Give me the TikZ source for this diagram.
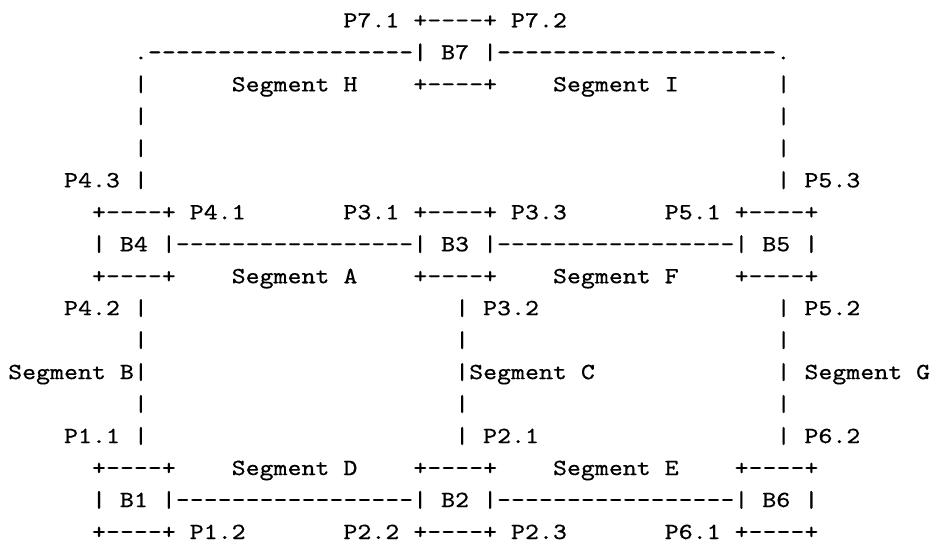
\documentclass[tikz,border=0pt]{standalone}
\usepackage{fontspec}
\setmonofont{Latin Modern Mono}[FakeBold=0.15]
\usepackage{graphicx}
\frenchspacing
\tikzset{
  asciitext/.style={font=\fontsize{8.72}{10}\selectfont\ttfamily\frenchspacing,
    anchor=base west, inner sep=0pt, outer sep=0pt, text=black}
}
% #1 name, #2 row, #3 column, #4 text
\newcommand\asciiat[4]{\node[asciitext] (#1) at ({8.2+13.97*#3},{-(27.5+31.97*#2)}) {\scalebox{1.144}[1]{#4}};}
\begin{document}
\begin{tikzpicture}[x=0.375pt,y=0.375pt]
\useasboundingbox (0,0) rectangle (930,-542);
% row 0
\asciiat{r0a}{0}{24}{P7.1 +----+ P7.2}
% row 1
\asciiat{r1a}{1}{9}{.-------------------| B7 |--------------------.}
% row 2
\asciiat{r2a}{2}{9}{|}
\asciiat{r2b}{2}{16}{Segment H}
\asciiat{r2c}{2}{29}{+----+}
\asciiat{r2d}{2}{39}{Segment I}
\asciiat{r2e}{2}{55}{|}
% rows 3-4
\asciiat{r3a}{3}{9}{|}
\asciiat{r3b}{3}{55}{|}
\asciiat{r4a}{4}{9}{|}
\asciiat{r4b}{4}{55}{|}
% row 5
\asciiat{r5a}{5}{4}{P4.3 |}
\asciiat{r5b}{5}{55}{| P5.3}
% row 6
\asciiat{r6a}{6}{6}{+----+ P4.1}
\asciiat{r6b}{6}{24}{P3.1 +----+ P3.3}
\asciiat{r6c}{6}{47}{P5.1 +----+}
% row 7
\asciiat{r7a}{7}{6}{| B4 |-----------------| B3 |-----------------| B5 |}
% row 8
\asciiat{r8a}{8}{6}{+----+}
\asciiat{r8b}{8}{16}{Segment A}
\asciiat{r8c}{8}{29}{+----+}
\asciiat{r8d}{8}{39}{Segment F}
\asciiat{r8e}{8}{52}{+----+}
% row 9
\asciiat{r9a}{9}{4}{P4.2 |}
\asciiat{r9b}{9}{32}{| P3.2}
\asciiat{r9c}{9}{55}{| P5.2}
% row 10
\asciiat{r10a}{10}{9}{|}
\asciiat{r10b}{10}{32}{|}
\asciiat{r10c}{10}{55}{|}
% row 11
\asciiat{r11a}{11}{0}{Segment B|}
\asciiat{r11b}{11}{32}{|Segment C}
\asciiat{r11c}{11}{55}{| Segment G}
% row 12
\asciiat{r12a}{12}{9}{|}
\asciiat{r12b}{12}{32}{|}
\asciiat{r12c}{12}{55}{|}
% row 13
\asciiat{r13a}{13}{4}{P1.1 |}
\asciiat{r13b}{13}{32}{| P2.1}
\asciiat{r13c}{13}{55}{| P6.2}
% row 14
\asciiat{r14a}{14}{6}{+----+}
\asciiat{r14b}{14}{16}{Segment D}
\asciiat{r14c}{14}{29}{+----+}
\asciiat{r14d}{14}{39}{Segment E}
\asciiat{r14e}{14}{52}{+----+}
% row 15
\asciiat{r15a}{15}{6}{| B1 |-----------------| B2 |-----------------| B6 |}
% row 16
\asciiat{r16a}{16}{6}{+----+ P1.2}
\asciiat{r16b}{16}{24}{P2.2 +----+ P2.3}
\asciiat{r16c}{16}{47}{P6.1 +----+}
\end{tikzpicture}
\end{document}
